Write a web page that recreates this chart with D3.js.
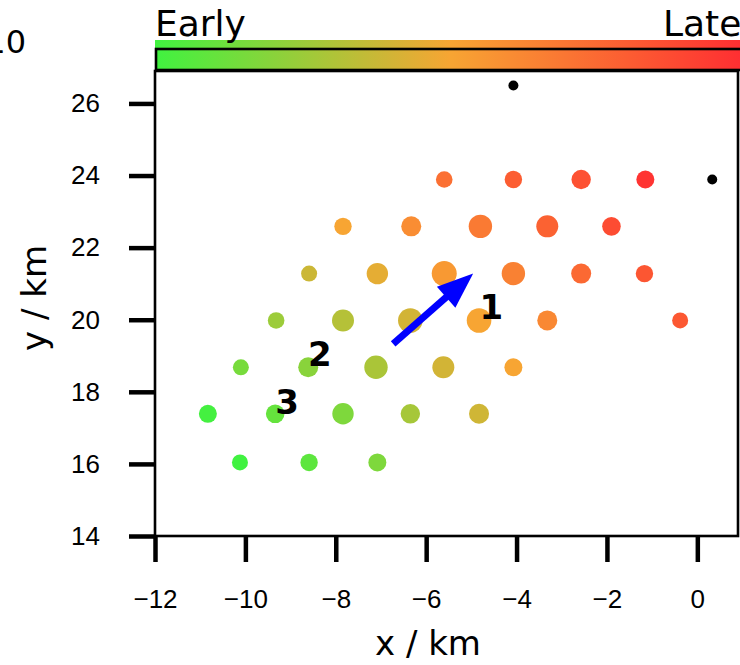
<!DOCTYPE html>
<html>
<head>
<meta charset="utf-8">
<script src="https://cdn.jsdelivr.net/npm/d3@7"></script>
<style>
  body { margin: 0; background: #fff; }
  svg { display: block; font-family: "DejaVu Sans", sans-serif; }
  .tick text { font-size: 26px; fill: #000; }
  .tick line { stroke: #000; stroke-width: 4.5; }
  .domain { display: none; }
</style>
</head>
<body>
<svg width="740" height="665"></svg>
<script>
// event positions (km), relative time (0 = early, 1 = late) and amplitude
const eventX = [
  -5.60, -4.07, -2.57, -1.15,
  -7.84, -6.33, -4.80, -3.32, -1.90,
  -8.59, -7.08, -5.60, -4.07, -2.57, -1.17,
  -9.32, -7.84, -6.35, -4.83, -3.32, -0.38,
  -10.10, -8.61, -7.11, -5.62, -4.07,
  -10.83, -9.34, -7.84, -6.35, -4.83,
  -10.12, -8.59, -7.08
];
const eventY = [
  23.89, 23.89, 23.89, 23.89,
  22.59, 22.59, 22.59, 22.59, 22.59,
  21.28, 21.28, 21.28, 21.28, 21.28, 21.28,
  19.98, 19.98, 19.98, 19.98, 19.98, 19.98,
  18.68, 18.68, 18.68, 18.68, 18.68,
  17.39, 17.39, 17.39, 17.39, 17.39,
  16.04, 16.04, 16.04
];
const eventTime = [
  0.72, 0.80, 0.85, 0.97,
  0.50, 0.60, 0.68, 0.78, 0.87,
  0.38, 0.45, 0.55, 0.65, 0.75, 0.83,
  0.25, 0.32, 0.40, 0.50, 0.62, 0.82,
  0.15, 0.20, 0.29, 0.40, 0.50,
  0.01, 0.10, 0.17, 0.28, 0.39,
  0.00, 0.08, 0.17
];
const eventAmp = [
  1.6, 2.4, 4.4, 3.0,
  2.4, 5.0, 8.4, 7.0, 3.6,
  1.0, 6.4, 10.0, 8.4, 5.0, 2.4,
  1.6, 7.0, 9.6, 9.6, 5.0, 1.0,
  1.0, 5.0, 8.4, 7.0, 3.0,
  3.0, 3.6, 6.4, 4.4, 5.0,
  1.0, 2.4, 3.0
];

// reference stations (black dots)
const stationX = [-4.07, 0.33];
const stationY = [26.5, 23.89];

// propagation arrow and numbered labels
const arrowFrom = [-6.73, 19.33];
const arrowTo   = [-4.96, 21.28];
const labelText = ["1", "2", "3"];
const labelX = [-4.56, -8.35, -9.08];
const labelY = [20.03, 18.72, 17.39];

const xTicks = [-12, -10, -8, -6, -4, -2, 0];
const yTicks = [14, 16, 18, 20, 22, 24, 26];

const svg = d3.select("svg");

const margin = {left: 155, right: 738, top: 71, bottom: 536};

const x = d3.scaleLinear().domain([-12, 0.9]).range([margin.left, margin.right]);
const y = d3.scaleLinear().domain([14, 26.9]).range([margin.bottom, margin.top]);
const r = d3.scaleLinear().domain([0, 10]).range([7.5, 12.5]);
const color = d3.scaleLinear()
  .domain([0, 0.5, 1])
  .range(["#40f240", "#f7a533", "#ff2d32"]);

// colour bar (runs past the right edge of the picture)
const defs = svg.append("defs");
const grad = defs.append("linearGradient").attr("id", "cbar");
d3.range(0, 1.001, 0.1).forEach(function(t) {
  grad.append("stop").attr("offset", t).attr("stop-color", color(t));
});

const cbar = {x0: 155, x1: 745, top: 40, line: 49, bottom: 70};

svg.append("rect")
  .attr("x", cbar.x0)
  .attr("y", cbar.top)
  .attr("width", cbar.x1 - cbar.x0)
  .attr("height", cbar.bottom - cbar.top)
  .attr("fill", "url(#cbar)");

svg.append("rect")
  .attr("x", cbar.x0 + 1)
  .attr("y", cbar.line)
  .attr("width", cbar.x1 - cbar.x0 + 10)
  .attr("height", cbar.bottom - cbar.line)
  .attr("fill", "none")
  .attr("stroke", "#000")
  .attr("stroke-width", 2.6);

svg.append("text")
  .attr("x", cbar.x0)
  .attr("y", 36)
  .attr("font-size", 36)
  .text("Early");

svg.append("text")
  .attr("x", 663)
  .attr("y", 36)
  .attr("font-size", 36)
  .text("Late");

// leftover label of the neighbouring panel
svg.append("text")
  .attr("x", 26)
  .attr("y", 53)
  .attr("text-anchor", "end")
  .attr("font-size", 32)
  .text("10");

// axes
svg.append("g")
  .attr("transform", "translate(0," + margin.bottom + ")")
  .call(d3.axisBottom(x).tickValues(xTicks).tickSize(26).tickPadding(28)
    .tickFormat(d3.format("d")));

svg.append("g")
  .attr("transform", "translate(" + margin.left + ",0)")
  .call(d3.axisLeft(y).tickValues(yTicks).tickSize(26).tickPadding(29)
    .tickFormat(d3.format("d")));

svg.selectAll(".tick text").attr("font-family", null).attr("font-size", null);

svg.append("rect")
  .attr("x", margin.left)
  .attr("y", margin.top)
  .attr("width", margin.right - margin.left)
  .attr("height", margin.bottom - margin.top)
  .attr("fill", "none")
  .attr("stroke", "#000")
  .attr("stroke-width", 2.6);

svg.append("text")
  .attr("x", 428)
  .attr("y", 655)
  .attr("text-anchor", "middle")
  .attr("font-size", 34)
  .text("x / km");

svg.append("text")
  .attr("transform", "translate(46,298) rotate(-90)")
  .attr("text-anchor", "middle")
  .attr("font-size", 34)
  .text("y / km");

// events
const events = eventX.map((d, i) => ({x: d, y: eventY[i], t: eventTime[i], amp: eventAmp[i]}));

svg.append("g")
  .selectAll("circle")
  .data(events)
  .enter()
  .append("circle")
  .attr("cx", d => x(d.x))
  .attr("cy", d => y(d.y))
  .attr("r", d => r(d.amp))
  .attr("fill", d => color(d.t));

svg.append("g")
  .selectAll("circle")
  .data(stationX.map((d, i) => [d, stationY[i]]))
  .enter()
  .append("circle")
  .attr("cx", d => x(d[0]))
  .attr("cy", d => y(d[1]))
  .attr("r", 5)
  .attr("fill", "#000");

// arrow
const ax0 = x(arrowFrom[0]), ay0 = y(arrowFrom[1]);
const ax1 = x(arrowTo[0]),   ay1 = y(arrowTo[1]);
const len = Math.hypot(ax1 - ax0, ay1 - ay0);
const ux = (ax1 - ax0) / len, uy = (ay1 - ay0) / len;
const headLen = 36, headHalf = 14;
const bx = ax1 - ux * headLen, by = ay1 - uy * headLen;

svg.append("line")
  .attr("x1", ax0).attr("y1", ay0)
  .attr("x2", bx + ux * 4).attr("y2", by + uy * 4)
  .attr("stroke", "#0000ff")
  .attr("stroke-width", 7);

svg.append("path")
  .attr("d", "M" + ax1 + "," + ay1 +
    "L" + (bx - uy * headHalf) + "," + (by + ux * headHalf) +
    "L" + (bx + uy * headHalf) + "," + (by - ux * headHalf) + "Z")
  .attr("fill", "#0000ff");

svg.append("g")
  .selectAll("text")
  .data(labelText)
  .enter()
  .append("text")
  .attr("x", (d, i) => x(labelX[i]))
  .attr("y", (d, i) => y(labelY[i]))
  .attr("text-anchor", "middle")
  .attr("font-size", 34)
  .attr("font-weight", "bold")
  .text(d => d);
</script>
</body>
</html>
